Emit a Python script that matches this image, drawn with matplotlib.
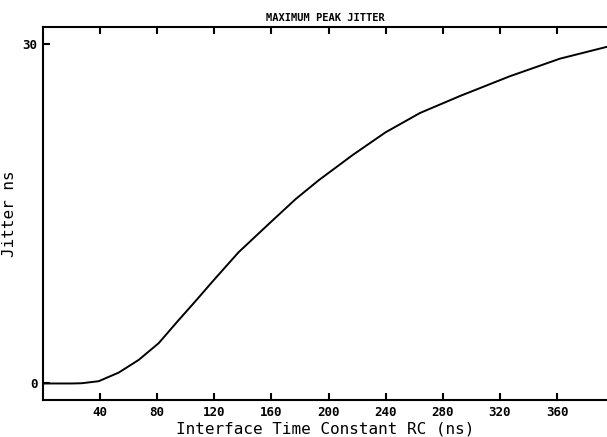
import numpy as np
import matplotlib.pyplot as plt

# curve
rc_ns = [0, 10, 20, 27, 39, 53, 67, 81, 95, 101, 108, 119, 137, 159, 177, 193,
         217, 240, 264, 292, 298, 327, 362, 395]
jitter_ns = [0, 0, 0, 0.02, 0.2, 0.96, 2.08, 3.56, 5.6, 6.45, 7.45, 9.05, 11.6,
             14.2, 16.3, 17.95, 20.2, 22.2, 23.9, 25.4, 25.7, 27.15, 28.7, 29.75]

x_ticks = [40, 80, 120, 160, 200, 240, 280, 320, 360]
y_ticks = [0, 30]

font = 'DejaVu Sans Mono'

fig = plt.figure(figsize=(6.07, 4.37), dpi=100)
ax = fig.add_axes([43/607, 1 - 400/437, 1 - 43/607, (400 - 27)/437])

ax.plot(rc_ns, jitter_ns, color='k', lw=1.4)

ax.set_xlim(0, 395)
ax.set_ylim(-1.46, 31.5)
ax.set_xticks(x_ticks)
ax.set_yticks(y_ticks)
ax.tick_params(axis='x', direction='in', top=True, length=5, width=1.5, pad=4)
ax.tick_params(axis='y', direction='in', length=5, width=1.5, pad=4)
for lbl in ax.get_xticklabels() + ax.get_yticklabels():
    lbl.set_fontfamily(font)
    lbl.set_fontweight('bold')
    lbl.set_fontsize(9)

ax.spines['right'].set_visible(False)
for side in ['top', 'bottom', 'left']:
    ax.spines[side].set_linewidth(1.5)

ax.set_title('MAXIMUM PEAK JITTER', fontfamily=font, fontweight='bold', fontsize=7.5, pad=4)
ax.set_xlabel('Interface Time Constant RC (ns)', fontfamily=font, fontsize=11.5, labelpad=2)
ax.set_ylabel('Jitter ns', fontfamily=font, fontsize=11.5, labelpad=4)

fig.savefig('out.png', dpi=100)
